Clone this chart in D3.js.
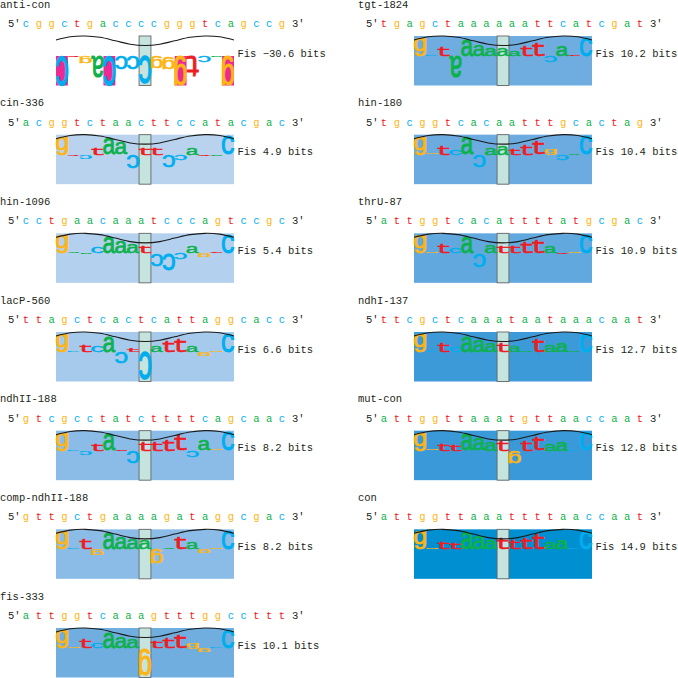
<!DOCTYPE html>
<html>
<head>
<meta charset="utf-8">
<script src="https://cdnjs.cloudflare.com/ajax/libs/d3/7.8.5/d3.min.js"></script>
<style>
  html, body { margin: 0; padding: 0; background: #fff; }
  svg { display: block; }
  text { font-family: "Liberation Mono", monospace; fill: #231f20; }
</style>
</head>
<body>
<div id="chart"></div>
<script>
// Walker names, one list per column
const leftNames = ["anti-con", "cin-336", "hin-1096", "lacP-560", "ndhII-188", "comp-ndhII-188", "fis-333"];
const rightNames = ["tgt-1824", "hin-180", "thrU-87", "ndhI-137", "mut-con", "con"];

const leftFis = [-30.6, 4.9, 5.4, 6.6, 8.2, 8.2, 10.1];
const rightFis = [10.2, 10.4, 10.9, 12.7, 12.8, 14.9];

const leftSeqs = [
    "cggctgaccccgggtcagccg",
    "acggtctaacttccatacgac",
    "cctgaacaaatcccagtccgc",
    "ttagctcactcattaggcacc",
    "gtcgcctatcttttcagcaac",
    "gttgctgaaaagataggcgac",
    "attggtcaaagtttggccttt"
];
const rightSeqs = [
    "tgagctaaaaaattcatcgat",
    "tgcggtcacaatttgcactag",
    "attggtcacattttatgcgac",
    "ttcgctcaaataataaacaat",
    "attggttaaatgttaaccaat",
    "attggttaaattttaaccaat"
];

// Bits per logo letter (negative = letter hangs upside down)
const antiConBits = [-2.95, -0.1, -0.7, -2.1, -2.95, -1.3, -1.3, -2.7, -1.2, -1.3, -2.95, -2.05, -0.6, -0.1, -2.95];
const cin336Bits = [1.8, -0.08, -0.4, 0.7, 1.6, 1.2, -1.3, 0.8, 0.8, -1.2, -0.5, 0.7, -0.1, -0.1, 1.8];
const hin1096Bits = [1.8, 0.06, -0.1, 0.6, 1.6, 1.2, 0.9, 0.8, -1.2, -1.6, -0.6, 0.7, -0.4, 0.06, 1.8];
const lacP560Bits = [1.8, 0.06, 0.8, 0.6, 1.5, -1.1, 0.3, -2.7, 0.6, 1.1, 1.4, 0.6, -0.4, 0.06, 1.8];
const ndhII188Bits = [1.8, 0.06, -0.4, 0.7, 1.6, 0.1, -1.2, 0.9, 0.9, 1.1, 1.5, -0.6, 1.0, 0.06, 1.8];
const compNdhII188Bits = [1.8, 0.06, 1.0, -0.6, 1.6, 1.2, 1.0, 0.9, -1.4, 0.1, 1.3, 0.7, -0.4, 0.06, 1.8];
const fis333Bits = [1.8, 0.06, 0.9, 0.5, 1.5, 1.1, 0.9, -2.7, 0.7, 1.0, 1.4, 0.5, -0.4, 0.06, 1.8];
const tgt1824Bits = [1.8, 0.06, 0.9, -2.1, 1.6, 1.1, 0.8, 0.8, 0.5, 1.0, 1.4, -0.6, 1.0, 0.06, 1.8];
const hin180Bits = [1.8, 0.06, 0.9, 0.5, 1.7, -1.2, 0.7, 0.9, 0.6, 1.0, 1.4, 0.5, -0.5, 0.06, 1.8];
const thrU87Bits = [1.8, 0.1, 0.9, 0.5, 1.6, -1.3, 0.8, 0.8, 0.8, 1.1, 1.4, 0.7, -0.1, 0.06, 1.8];
const ndhI137Bits = [1.8, 0.06, 0.9, 0.5, 1.5, 1.2, 0.9, 0.9, 0.6, 0.06, 1.4, 0.7, 0.9, 0.06, 1.8];
const mutConBits = [1.8, 0.08, 0.8, 0.6, 1.6, 1.2, 0.9, 1.0, -1.3, 1.0, 1.4, 0.7, 0.9, 0.06, 1.8];
const conBits = [1.8, 0.08, 0.8, 0.6, 1.7, 1.3, 0.9, 1.1, 0.9, 1.1, 1.5, 0.7, 0.9, 0.06, 1.8];

const leftBits = [antiConBits, cin336Bits, hin1096Bits, lacP560Bits, ndhII188Bits, compNdhII188Bits, fis333Bits];
const rightBits = [tgt1824Bits, hin180Bits, thrU87Bits, ndhI137Bits, mutConBits, conBits];

// Logo positions where the base was never seen (pink column behind the letter)
const antiConUnseen = [0, 4, 10, 14];

// Helix outline: position from centre, and depth 0..1
const helixPos = [-7.5, -6.3, -5.05, -3.8, -2.5, -1.25, 0, 1.25, 2.5, 3.8, 5.05, 6.3, 7.5];
const helixDepth = [0.42, 0.08, 0, 0.14, 0.5, 0.87, 1, 0.87, 0.5, 0.14, 0, 0.08, 0.42];

// Layout
const logoLeft = 56, logoRight = 234, panelHeight = 49.5, columnOffset = 358;
const seqOffset = 3; // the logo shows the middle 15 of the 21 bases

const svg = d3.select("#chart")
    .append("svg")
    .attr("width", 678)
    .attr("height", 678);

// Scales
const rowY = d3.scaleLinear().domain([0, 6]).range([36, 628]);
const logoX = d3.scaleBand().domain(d3.range(15)).range([logoLeft, logoRight]);
const seqX = d3.scaleLinear().domain([0, 20]).range([26, 282]);
const bitsY = d3.scaleLinear().domain([2, -2.95]).range([0, panelHeight]);
const baseColor = d3.scaleOrdinal()
    .domain(["a", "c", "g", "t"])
    .range(["#0db14b", "#00aeef", "#fdb515", "#ed1c24"]);
const panelColor = d3.scaleLinear()
    .domain([4.9, 6.6, 8.2, 10.2, 12.7, 14.9])
    .range(["#b9d3ef", "#a6caeb", "#8bbce8", "#6fade0", "#3d9ad9", "#008fd0"]);

const helixX = d3.scaleLinear().domain([-7.5, 7.5]).range([logoLeft, logoRight]);
const helixY = d3.scaleLinear().domain([0, 1]).range([0, 9.5]);
const helixLine = d3.line()
    .x(d => helixX(d[0]))
    .y(d => helixY(d[1]))
    .curve(d3.curveCatmullRom);
const helixPoints = d3.zip(helixPos, helixDepth);

// Measure letter ink so the glyphs can be stretched to their column
const measure = document.createElement("canvas").getContext("2d");
measure.font = '100px "Liberation Mono"';
const ink = {};
baseColor.domain().forEach(b => {
    const m = measure.measureText(b);
    ink[b] = {
        left: -m.actualBoundingBoxLeft,
        width: m.actualBoundingBoxRight + m.actualBoundingBoxLeft,
        ascent: m.actualBoundingBoxAscent,
        descent: m.actualBoundingBoxDescent
    };
});

function letterTransform(base, pos, bits) {
    const i = ink[base];
    const h = Math.abs(bitsY(bits) - bitsY(0));
    const sx = logoX.bandwidth() / i.width;
    const sy = h / (i.ascent + i.descent);
    const fit = `scale(${sx},${sy}) translate(${-i.left},${-i.descent})`;
    if (bits >= 0) {
        return `translate(${logoX(pos)},${bitsY(0)}) ${fit}`;
    }
    // upside down: turn about the band so the letter hangs from the baseline
    return `translate(${logoX(pos) + logoX.bandwidth()},${bitsY(0)}) scale(-1,-1) ${fit}`;
}

function drawWalker(name, fis, seq, bits, row, col) {
    const top = rowY(row);
    const g = svg.append("g")
        .attr("transform", `translate(${col * columnOffset},${top})`);

    g.append("text")
        .attr("x", 0)
        .attr("y", -28.5)
        .style("font-size", "10.5px")
        .text(name);

    // sequence row
    g.append("text").attr("x", 8).attr("y", -9).style("font-size", "10.5px").text("5\u2032");
    g.append("text").attr("x", 292).attr("y", -9).style("font-size", "10.5px").text("3\u2032");
    g.selectAll(".seq")
        .data(seq.split(""))
        .enter()
        .append("text")
        .attr("class", "seq")
        .attr("x", (d, i) => seqX(i))
        .attr("y", -9)
        .attr("text-anchor", "middle")
        .style("font-size", "10.5px")
        .style("fill", d => baseColor(d))
        .text(d => d);

    // logo panel (negative walkers get no tint)
    g.append("rect")
        .attr("x", logoLeft)
        .attr("y", 0)
        .attr("width", logoRight - logoLeft)
        .attr("height", panelHeight)
        .attr("fill", fis < 0 ? "#ffffff" : panelColor(fis));

    // centre bar
    g.append("rect")
        .attr("x", logoX(7))
        .attr("y", 0)
        .attr("width", logoX.bandwidth())
        .attr("height", panelHeight)
        .attr("fill", "#c6e4de")
        .attr("stroke", "#666666")
        .attr("stroke-width", 0.9);

    // unseen bases
    if (name === "anti-con") {
        g.selectAll(".unseen")
            .data(antiConUnseen)
            .enter()
            .append("rect")
            .attr("class", "unseen")
            .attr("x", d => logoX(d))
            .attr("y", bitsY(0))
            .attr("width", logoX.bandwidth())
            .attr("height", bitsY(-2.95) - bitsY(0))
            .attr("fill", "#ec2a94");
    }

    // logo letters, regular weight thickened a little with a same-colour stroke
    const bases = seq.slice(seqOffset, seqOffset + 15).split("");
    g.selectAll(".logo")
        .data(bases)
        .enter()
        .append("text")
        .attr("class", "logo")
        .attr("transform", (d, i) => letterTransform(d, i, bits[i]))
        .style("font-size", "100px")
        .style("fill", d => baseColor(d))
        .style("stroke", d => baseColor(d))
        .style("stroke-width", 3)
        .text(d => d);

    // helix outline
    g.append("path")
        .attr("d", helixLine(helixPoints))
        .attr("fill", "none")
        .attr("stroke", "#1a1a1a")
        .attr("stroke-width", 1.1);

    g.append("text")
        .attr("x", 237.5)
        .attr("y", 20.5)
        .style("font-size", "10.5px")
        .text(`Fis ${fis < 0 ? "\u2212" + Math.abs(fis) : fis} bits`);
}

leftNames.forEach((n, i) => drawWalker(n, leftFis[i], leftSeqs[i], leftBits[i], i, 0));
rightNames.forEach((n, i) => drawWalker(n, rightFis[i], rightSeqs[i], rightBits[i], i, 1));
</script>
</body>
</html>
